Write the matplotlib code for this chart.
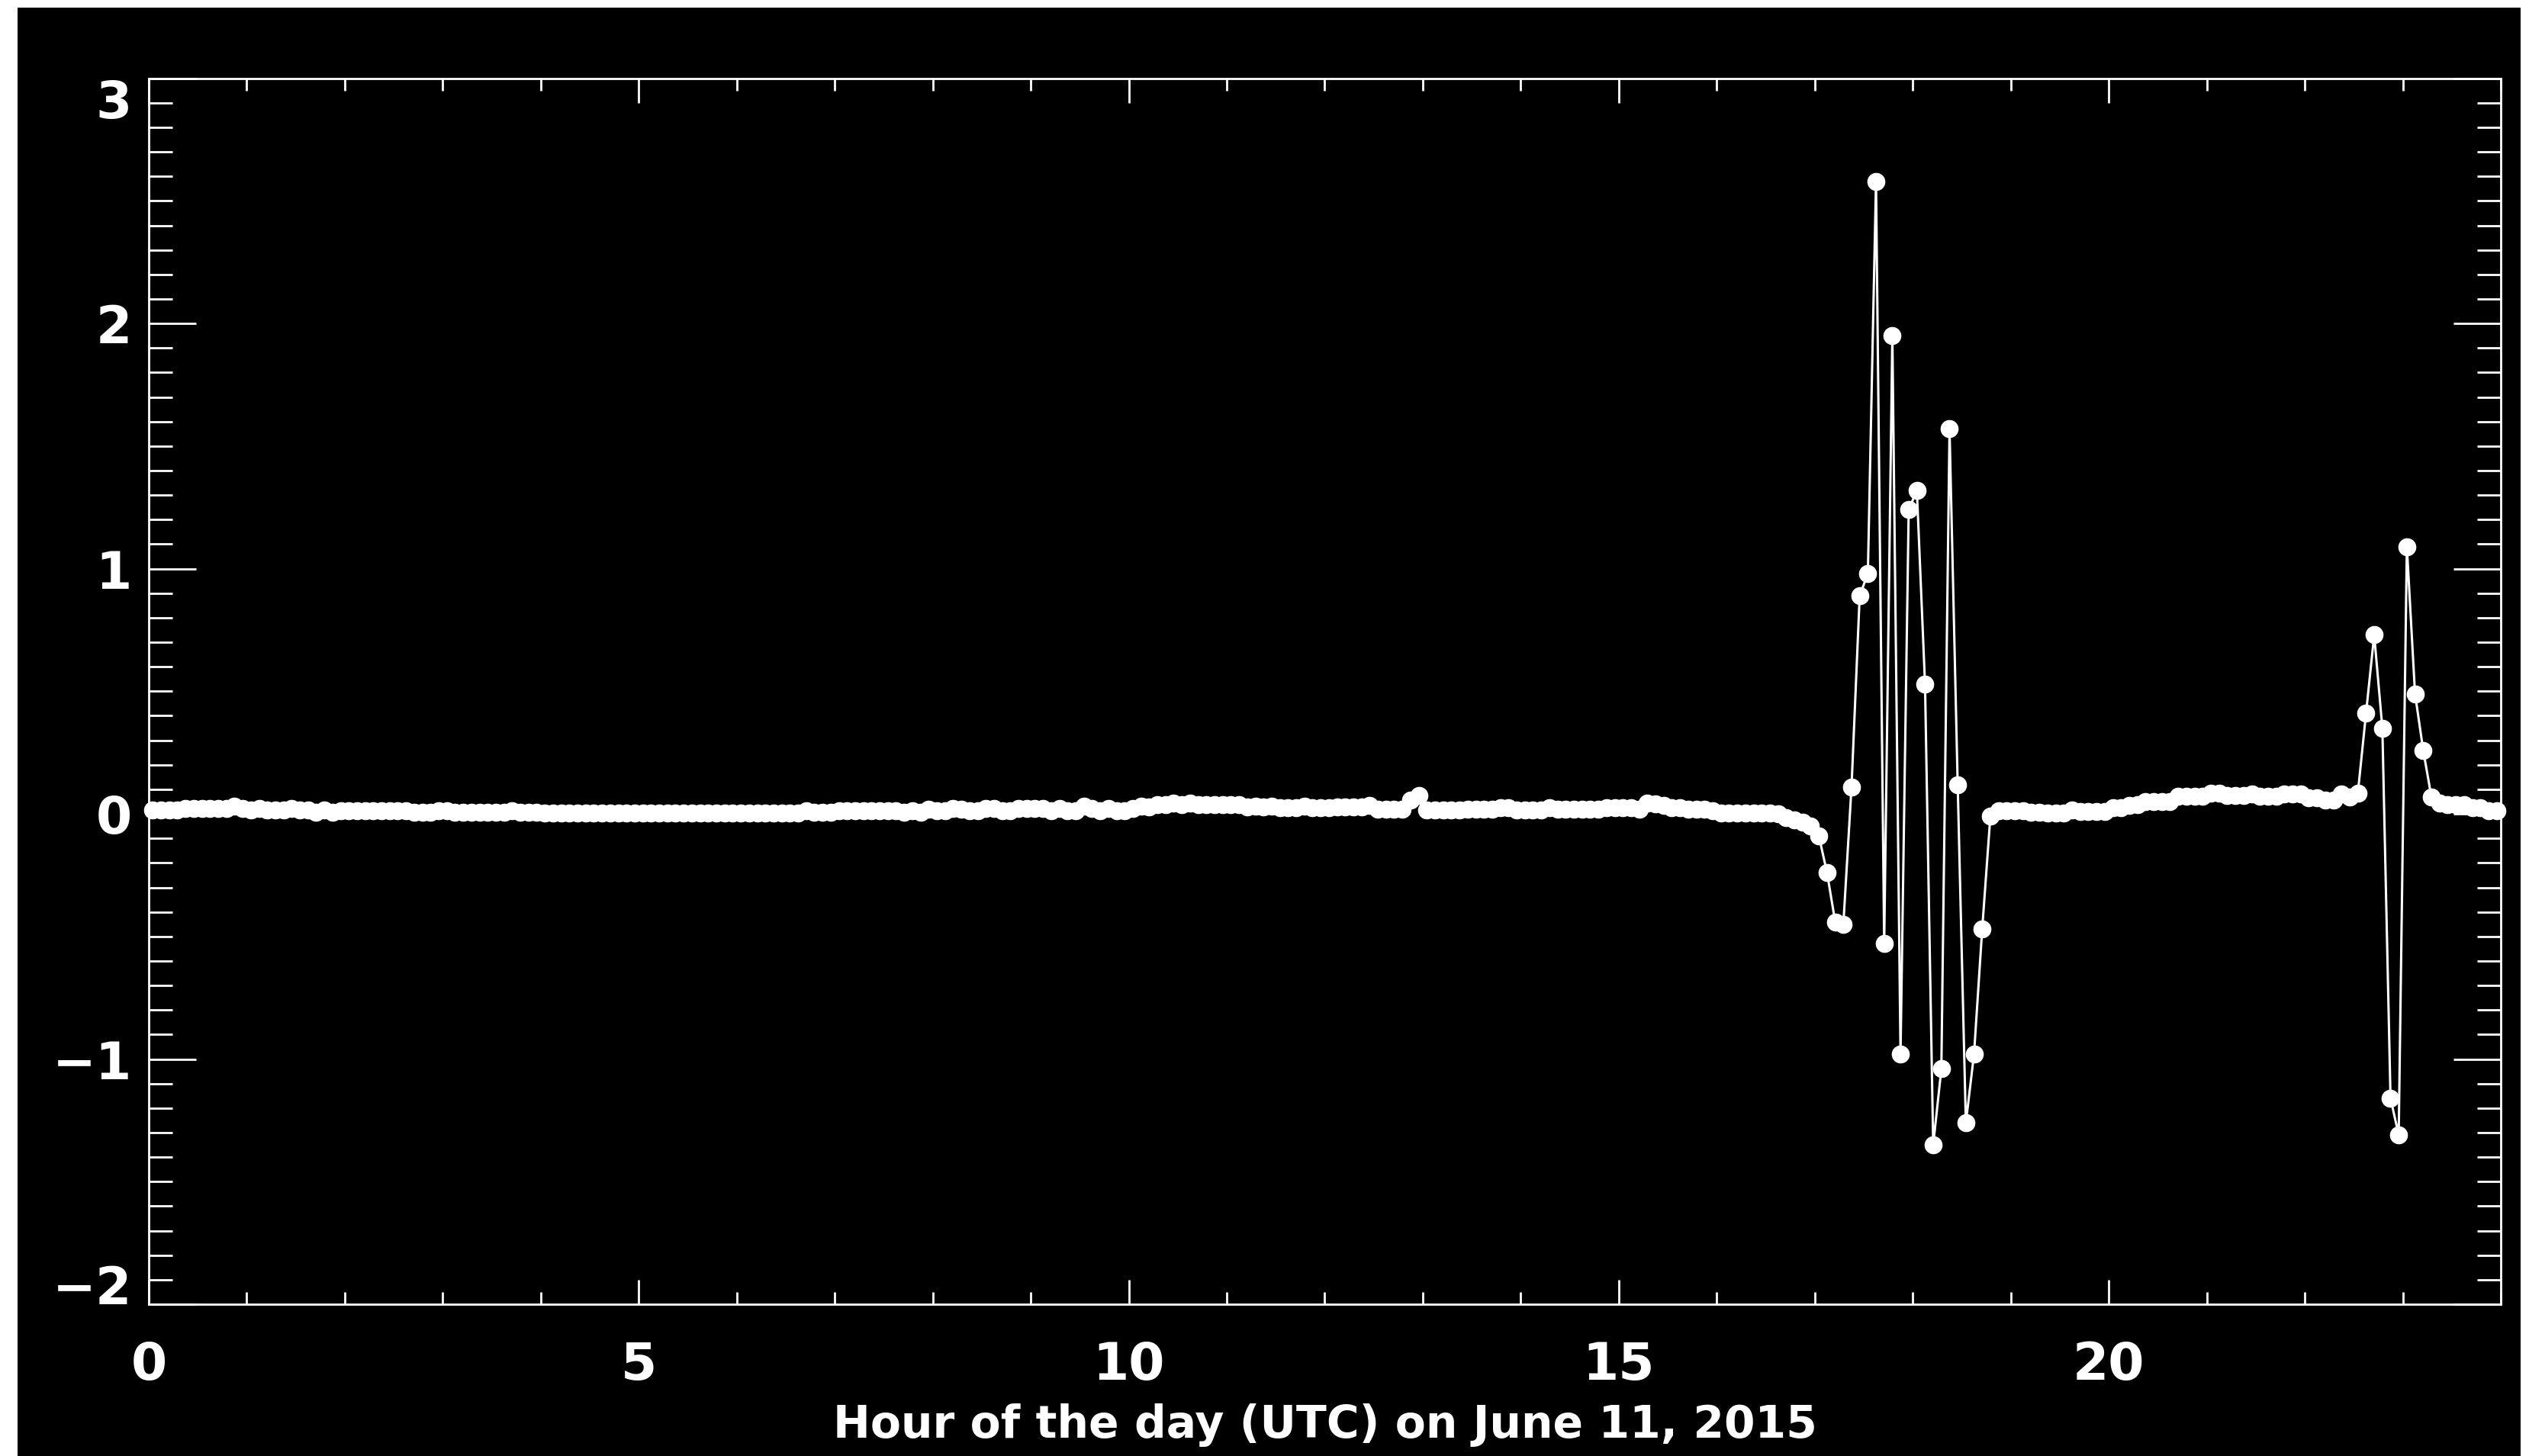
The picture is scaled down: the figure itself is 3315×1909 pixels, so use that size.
import numpy as np
import matplotlib
matplotlib.use('Agg')
import matplotlib.pyplot as plt
from matplotlib.patches import Rectangle
from matplotlib.ticker import MultipleLocator

# 5-minute samples over the day, one row per hour (12 values each)
values = [
    0.015, 0.015, 0.015, 0.015, 0.023, 0.023, 0.023, 0.023, 0.023, 0.023, 0.031, 0.022,  # 0h
    0.015, 0.022, 0.015, 0.015, 0.015, 0.022, 0.015, 0.015, 0.005, 0.015, 0.005, 0.014,  # 1h
    0.014, 0.014, 0.014, 0.014, 0.014, 0.014, 0.014, 0.014, 0.005, 0.005, 0.005, 0.014,  # 2h
    0.014, 0.005, 0.005, 0.005, 0.005, 0.005, 0.005, 0.005, 0.014, 0.005, 0.005, 0.005,  # 3h
    0.003, 0.003, 0.003, 0.003, 0.003, 0.003, 0.003, 0.003, 0.003, 0.003, 0.003, 0.003,  # 4h
    0.003, 0.003, 0.003, 0.003, 0.003, 0.003, 0.003, 0.003, 0.003, 0.003, 0.003, 0.003,  # 5h
    0.003, 0.003, 0.003, 0.003, 0.003, 0.003, 0.003, 0.003, 0.012, 0.005, 0.005, 0.005,  # 6h
    0.014, 0.014, 0.014, 0.014, 0.014, 0.014, 0.014, 0.014, 0.005, 0.014, 0.005, 0.020,  # 7h
    0.014, 0.014, 0.022, 0.018, 0.014, 0.014, 0.022, 0.022, 0.014, 0.014, 0.022, 0.022,  # 8h
    0.022, 0.022, 0.014, 0.022, 0.014, 0.014, 0.031, 0.022, 0.014, 0.022, 0.014, 0.014,  # 9h
    0.022, 0.031, 0.028, 0.039, 0.039, 0.045, 0.039, 0.045, 0.039, 0.039, 0.039, 0.039,  # 10h
    0.039, 0.039, 0.028, 0.031, 0.028, 0.031, 0.024, 0.024, 0.024, 0.031, 0.024, 0.024,  # 11h
    0.024, 0.028, 0.028, 0.028, 0.028, 0.036, 0.018, 0.018, 0.018, 0.018, 0.055, 0.075,  # 12h
    0.015, 0.015, 0.015, 0.015, 0.015, 0.020, 0.020, 0.020, 0.020, 0.026, 0.026, 0.015,  # 13h
    0.015, 0.015, 0.015, 0.026, 0.020, 0.020, 0.020, 0.020, 0.020, 0.020, 0.026, 0.026,  # 14h
    0.026, 0.026, 0.018, 0.045, 0.040, 0.035, 0.026, 0.026, 0.018, 0.018, 0.018, 0.012,  # 15h
    0.003, 0.003, 0.003, 0.003, 0.003, 0.003, 0.003, 0.000, -0.015, -0.025, -0.035, -0.050,  # 16h
    -0.09, -0.24, -0.44, -0.45, 0.11, 0.89, 0.98, 2.58, -0.53, 1.95, -0.98, 1.24,  # 17h
    1.32, 0.53, -1.35, -1.04, 1.57, 0.12, -1.26, -0.98, -0.47, -0.01, 0.013, 0.013,  # 18h
    0.013, 0.013, 0.006, 0.006, 0.002, 0.002, 0.002, 0.016, 0.010, 0.010, 0.010, 0.010,  # 19h
    0.024, 0.024, 0.034, 0.037, 0.049, 0.049, 0.049, 0.049, 0.071, 0.071, 0.071, 0.071,  # 20h
    0.085, 0.085, 0.075, 0.075, 0.075, 0.080, 0.073, 0.073, 0.073, 0.080, 0.080, 0.080,  # 21h
    0.065, 0.065, 0.057, 0.057, 0.080, 0.070, 0.085, 0.41, 0.73, 0.35, -1.16, -1.31,  # 22h
    1.09, 0.49, 0.26, 0.07, 0.045, 0.037, 0.037, 0.037, 0.025, 0.025, 0.012, 0.012,  # 23h
]
# sample times: centre of each 5-minute bin, in hours
hours = (np.arange(len(values)) + 0.5) / 12.0

x_ticks = [0, 5, 10, 15, 20]
x_tick_labels = ['0', '5', '10', '15', '20']
y_ticks = [-2, -1, 0, 1, 2, 3]
y_tick_labels = ['\u22122', '\u22121', '0', '1', '2', '3']
x_label = 'Hour of the day (UTC) on June 11, 2015'

W, H, DPI = 3316, 1909, 200
fig = plt.figure(figsize=(W / DPI, H / DPI), dpi=DPI, facecolor='white')
# black canvas with a thin white margin like the reference
fig.patches.append(Rectangle((23 / W, 0), (3304 - 23) / W, (H - 10) / H,
                             transform=fig.transFigure, facecolor='black',
                             edgecolor='none', zorder=-10))

ax = fig.add_axes([195 / W, 1 - 1710 / H, (3278 - 195) / W, (1710 - 102.7) / H])
ax.set_facecolor('black')

ax.plot(hours, values, color='white', lw=1.1, marker='o', ms=8, mec='white',
        mfc='white', mew=0.5, clip_on=False, zorder=3)

ax.set_xlim(0, 24)
ax.set_ylim(-2, 3)
ax.set_xticks(x_ticks)
ax.set_xticklabels(x_tick_labels)
ax.set_yticks(y_ticks)
ax.set_yticklabels(y_tick_labels)
ax.xaxis.set_minor_locator(MultipleLocator(1))
ax.yaxis.set_minor_locator(MultipleLocator(0.1))

for s in ax.spines.values():
    s.set_color('white')
    s.set_linewidth(1.0)

ax.tick_params(axis='both', which='both', direction='in', colors='white',
               width=1.0, top=True, right=True)
ax.tick_params(axis='x', which='major', length=11.5, pad=17)
ax.tick_params(axis='x', which='minor', length=5.8)
ax.tick_params(axis='y', which='major', length=22.3, pad=8)
ax.tick_params(axis='y', which='minor', length=11.2)

for lab in ax.get_xticklabels() + ax.get_yticklabels():
    lab.set_fontsize(24.5)
    lab.set_fontweight('bold')
    lab.set_color('white')

yt = ax.yaxis.get_major_ticks()
for t in yt:
    t.label1.set_verticalalignment('center_baseline')
yt[-1].label1.set_verticalalignment('top')
yt[0].label1.set_verticalalignment('baseline')

ax.set_xlabel(x_label, fontsize=21, fontweight='bold', color='white')
ax.xaxis.label.set_verticalalignment('baseline')
ax.xaxis.set_label_coords(0.5, (1710 - 1885) / (1710 - 102.7))

fig.savefig('out.png', dpi=DPI, facecolor=fig.get_facecolor())
